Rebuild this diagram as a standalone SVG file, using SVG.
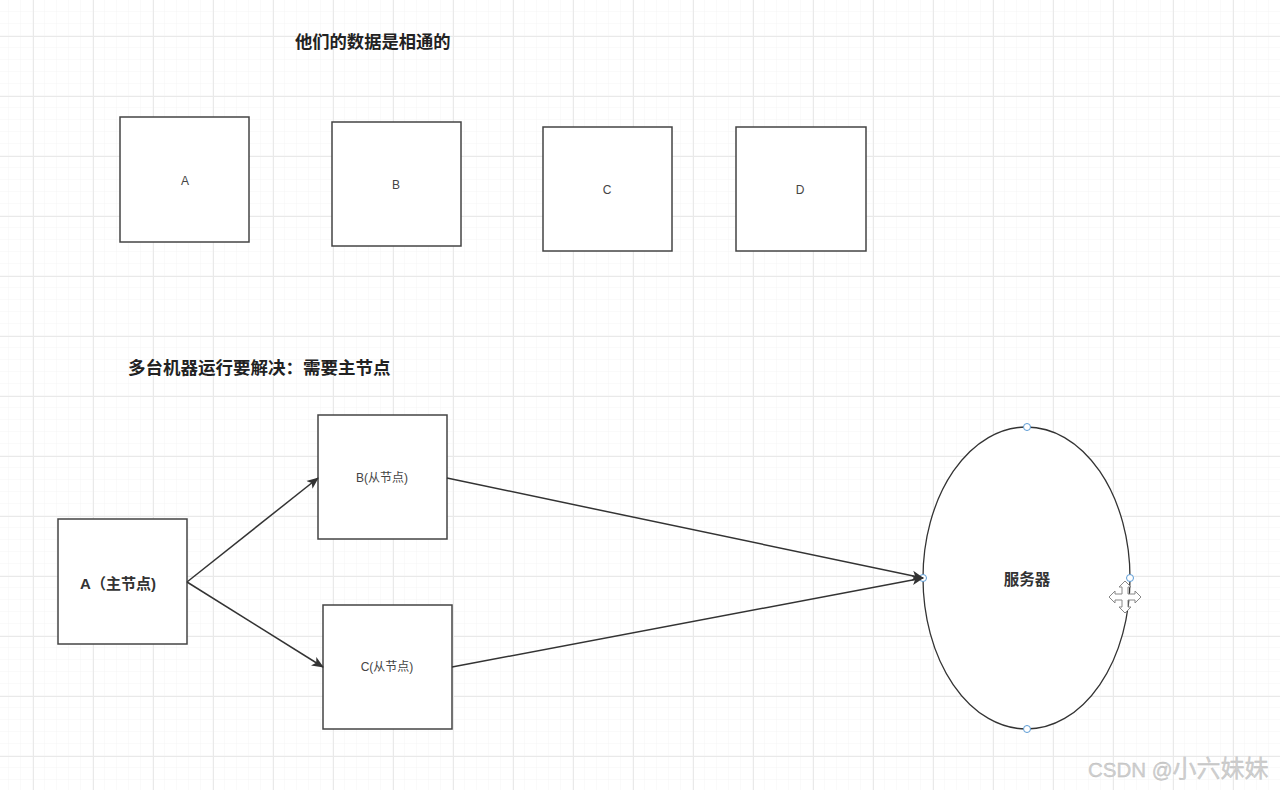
<svg xmlns="http://www.w3.org/2000/svg" width="1280" height="790" viewBox="0 0 1280 790">
<defs>
<pattern id="minor" width="12" height="12" patternUnits="userSpaceOnUse" x="9" y="0">
<path d="M12 0V12M0 12H12" fill="none" stroke="#f4f4f4" stroke-width="1"/>
</pattern>
<pattern id="major" width="60" height="60" patternUnits="userSpaceOnUse" x="33" y="36">
<path d="M0.5 0V60M0 0.5H60" fill="none" stroke="#e9e9e9" stroke-width="1"/>
</pattern>
<marker id="arr" viewBox="0 0 12 12" refX="11" refY="6" markerWidth="12" markerHeight="12" markerUnits="userSpaceOnUse" orient="auto">
<path d="M0 1L12 6L0 11L3 6Z" fill="#333"/>
</marker>
<style>
.box{fill:#fff;stroke:#444;stroke-width:1.5}
.lbl{font-family:"Liberation Sans","Noto Sans CJK SC",sans-serif;font-size:12px;fill:#444;text-anchor:middle;dominant-baseline:central}
.title{font-family:"Liberation Sans","Noto Sans CJK SC",sans-serif;font-size:17px;font-weight:bold;fill:#222}
.bold{font-family:"Liberation Sans","Noto Sans CJK SC",sans-serif;font-size:15px;font-weight:bold;fill:#333;text-anchor:middle;dominant-baseline:central}
.conn{fill:none;stroke:#333;stroke-width:1.5}
.handle{fill:#fff;stroke:#5b9bd5;stroke-width:1}
</style>
</defs>
<rect width="1280" height="790" fill="#fff"/>
<rect width="1280" height="790" fill="url(#minor)"/>
<rect width="1280" height="790" fill="url(#major)"/>

<text class="title" x="295" y="48" style="font-size:17.3px">他们的数据是相通的</text>
<text class="title" x="128" y="374" style="font-size:17.5px">多台机器运行要解决：需要主节点</text>

<g id="nodeA"><rect class="box" x="120" y="117" width="129" height="125"/><text class="lbl" x="185" y="181">A</text></g>
<g id="nodeB"><rect class="box" x="332" y="122" width="129" height="124"/><text class="lbl" x="396" y="185">B</text></g>
<g id="nodeC"><rect class="box" x="543" y="127" width="129" height="124"/><text class="lbl" x="607" y="190">C</text></g>
<g id="nodeD"><rect class="box" x="736" y="127" width="130" height="124"/><text class="lbl" x="800" y="190">D</text></g>

<g id="master"><rect class="box" x="58" y="519" width="129" height="125"/><text class="bold" x="118" y="583">A（主节点)</text></g>
<g id="slaveB"><rect class="box" x="318" y="415" width="129" height="124"/><text class="lbl" x="382" y="478">B(从节点)</text></g>
<g id="slaveC"><rect class="box" x="323" y="605" width="129" height="124"/><text class="lbl" x="387" y="667">C(从节点)</text></g>

<g id="server">
<ellipse cx="1026.5" cy="578" rx="103.5" ry="151" fill="#fff" stroke="#333" stroke-width="1.3"/>
<text class="bold" x="1027" y="579" style="font-size:15.5px">服务器</text>
<circle class="handle" cx="1027" cy="427" r="3.5"/>
<circle class="handle" cx="1027" cy="729" r="3.5"/>
<circle class="handle" cx="923" cy="578" r="3.5"/>
<circle class="handle" cx="1130" cy="578" r="3.5"/>
<g transform="translate(1125,597)" fill="#fff" stroke="#888" stroke-width="1">
<path d="M0 -16L6 -10H3V-3H10V-6L16 0L10 6V3H3V10H6L0 16L-6 10H-3V3H-10V6L-16 0L-10 -6V-3H-3V-10H-6Z"/>
</g>
</g>

<g id="connectors">
<path class="conn" d="M187 582L318 478" marker-end="url(#arr)"/>
<path class="conn" d="M187 582L323 667" marker-end="url(#arr)"/>
<path class="conn" d="M447 478L923 578" marker-end="url(#arr)"/>
<path class="conn" d="M452 667L923 578" marker-end="url(#arr)"/>
</g>

<text x="1088" y="777" style="font-family:'Liberation Sans','Noto Sans CJK SC',sans-serif;font-size:20.5px;fill:#cfcfcf;stroke:#b8b8b8;stroke-width:0.3">CSDN @<tspan style="font-size:24px">小六妹妹</tspan></text>
</svg>
